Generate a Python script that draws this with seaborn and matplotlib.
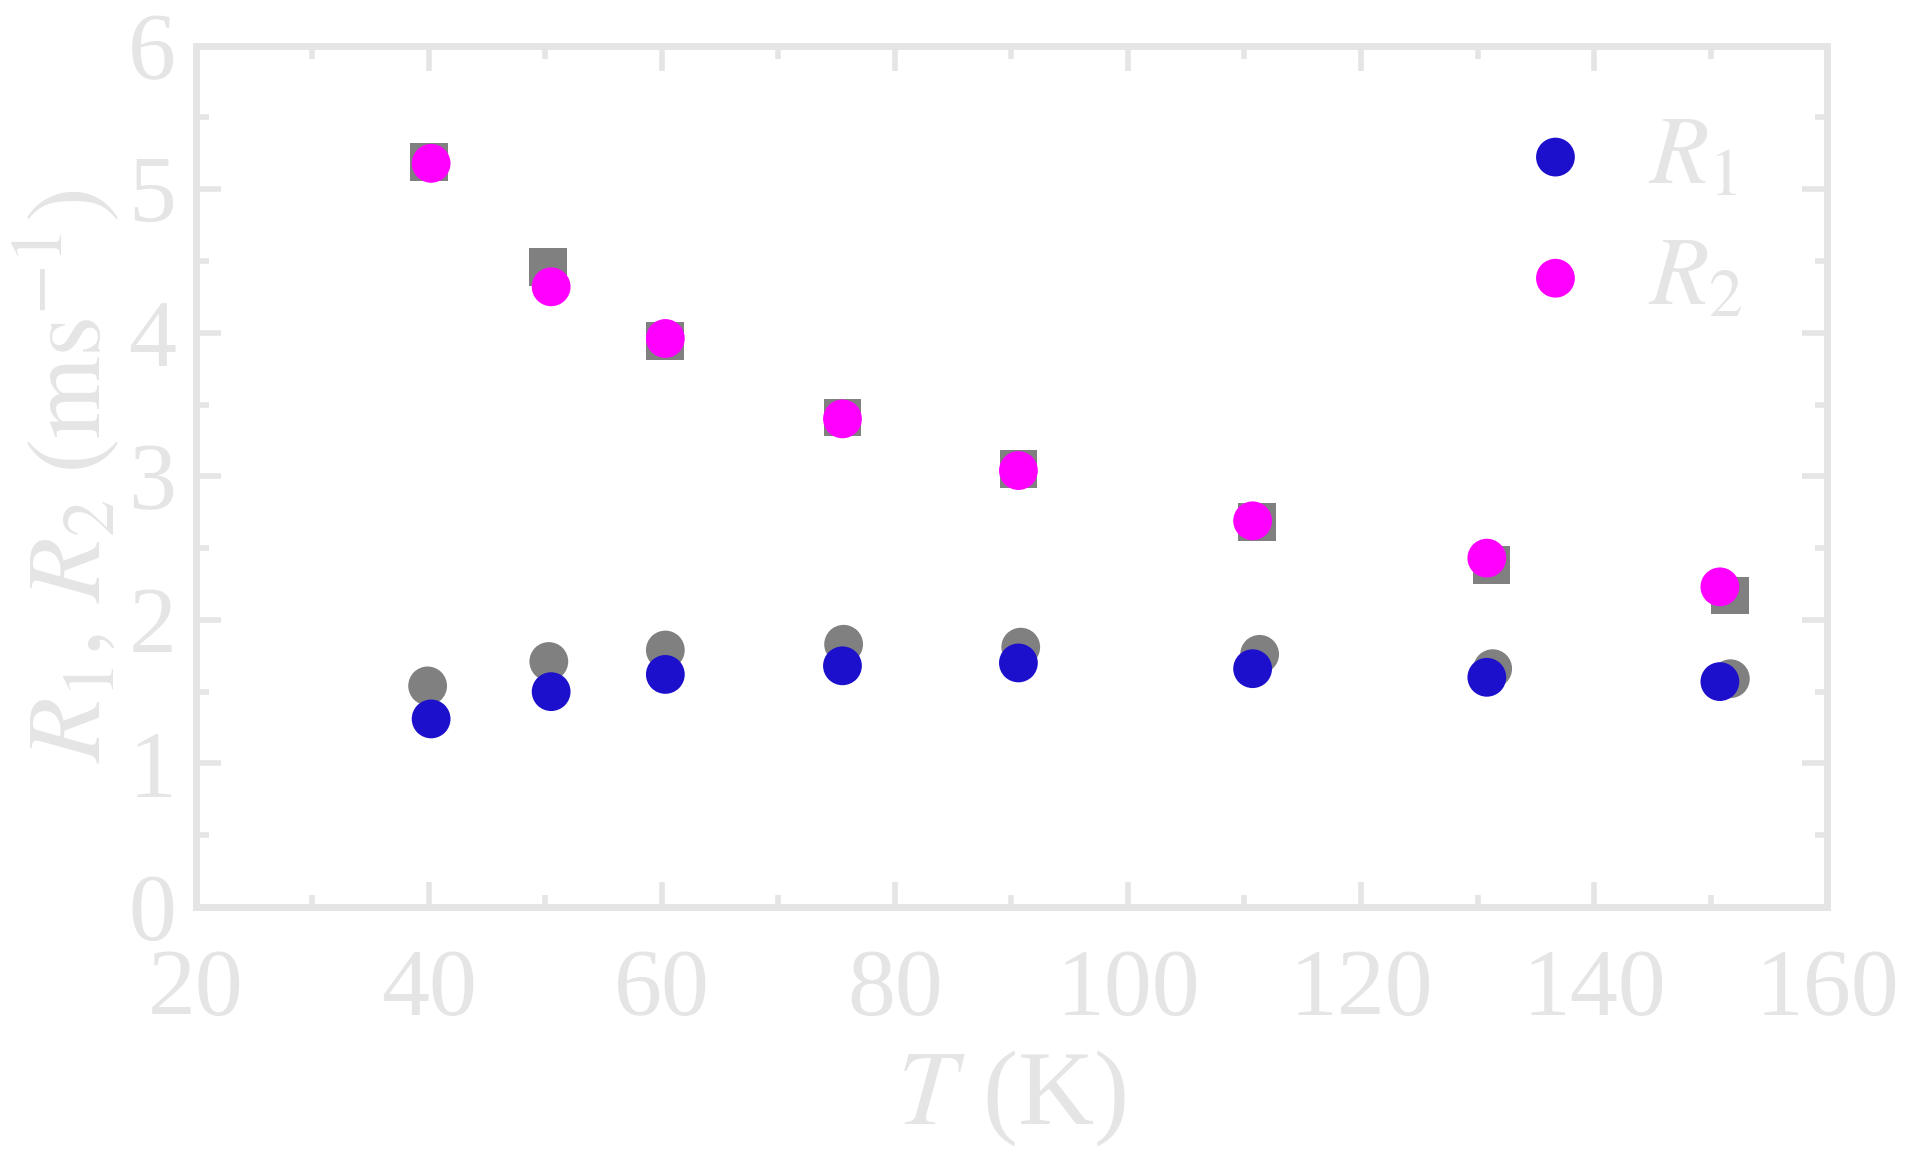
import numpy as np
import pandas as pd
import matplotlib
matplotlib.use('Agg')
import matplotlib.pyplot as plt
import seaborn as sns
from matplotlib.ticker import MultipleLocator

# --- du lieu doc tu hinh ---
T_ref1 = [39.9, 50.3, 60.3, 75.6, 90.8, 111.3, 131.3, 151.7]
R1_ref = [1.54, 1.71, 1.79, 1.83, 1.81, 1.76, 1.66, 1.59]
T_ref2 = [40.0, 50.2, 60.3, 75.5, 90.6, 111.1, 131.2, 151.7]
R2_ref = [5.19, 4.46, 3.94, 3.41, 3.05, 2.68, 2.38, 2.17]

T_meas = [40.2, 50.5, 60.3, 75.5, 90.6, 110.7, 130.8, 150.8]
R1 = [1.31, 1.50, 1.62, 1.68, 1.70, 1.66, 1.60, 1.57]
R2 = [5.18, 4.32, 3.96, 3.40, 3.04, 2.69, 2.43, 2.23]

x_ticks = [20, 40, 60, 80, 100, 120, 140, 160]
y_ticks = [0, 1, 2, 3, 4, 5, 6]

light = '#e5e5e5'
blue = '#1c10cc'
magenta = '#ff00ff'
grey = '#808080'

sns.set_theme(style='white')
plt.rcParams['font.family'] = ['Liberation Serif', 'DejaVu Serif']
plt.rcParams['mathtext.fontset'] = 'stix'

fig = plt.figure(figsize=(19.06, 11.64), dpi=100)
ax = fig.add_axes([0.1027, 0.2208, 0.8559, 0.740])

df_ref1 = pd.DataFrame({'T': T_ref1, 'R': R1_ref})
df_ref2 = pd.DataFrame({'T': T_ref2, 'R': R2_ref})
df1 = pd.DataFrame({'T': T_meas, 'R': R1})
df2 = pd.DataFrame({'T': T_meas, 'R': R2})

sns.scatterplot(data=df_ref2, x='T', y='R', ax=ax, marker='s', s=740, color=grey,
                edgecolor='none', linewidth=0, zorder=2)
sns.scatterplot(data=df_ref1, x='T', y='R', ax=ax, marker='o', s=780, color=grey,
                edgecolor='none', linewidth=0, zorder=2)
sns.scatterplot(data=df1, x='T', y='R', ax=ax, marker='o', s=780, color=blue,
                edgecolor='none', linewidth=0, zorder=3, label='$R_1$')
sns.scatterplot(data=df2, x='T', y='R', ax=ax, marker='o', s=780, color=magenta,
                edgecolor='none', linewidth=0, zorder=3, label='$R_2$')

ax.set_xlim(20, 160)
ax.set_ylim(0, 6)
ax.set_xticks(x_ticks)
ax.set_yticks(y_ticks)
ax.xaxis.set_minor_locator(MultipleLocator(10))
ax.yaxis.set_minor_locator(MultipleLocator(0.5))

for sp in ax.spines.values():
    sp.set_color(light)
    sp.set_linewidth(5)

ax.tick_params(which='both', direction='in', top=True, right=True, bottom=True, left=True,
               colors=light, labelcolor=light, labelsize=69)
ax.tick_params(which='major', length=18, width=4)
ax.tick_params(which='minor', length=9, width=4)
ax.tick_params(axis='x', pad=30)
ax.tick_params(axis='y', pad=14)

ax.set_xlabel('$T$ (K)', fontsize=76, color=light, labelpad=10)
ax.set_ylabel(r'$R_1,\,R_2\;(\mathrm{ms}^{-1})$', fontsize=76, color=light, labelpad=4)

leg = ax.legend(loc='upper right', frameon=False, fontsize=70, markerscale=1.0,
                handlelength=0.8, handletextpad=0.55, labelspacing=0.33,
                borderaxespad=0.3, bbox_to_anchor=(0.99, 0.999))
for t in leg.get_texts():
    t.set_color(light)

fig.savefig('out.png', dpi=100)
